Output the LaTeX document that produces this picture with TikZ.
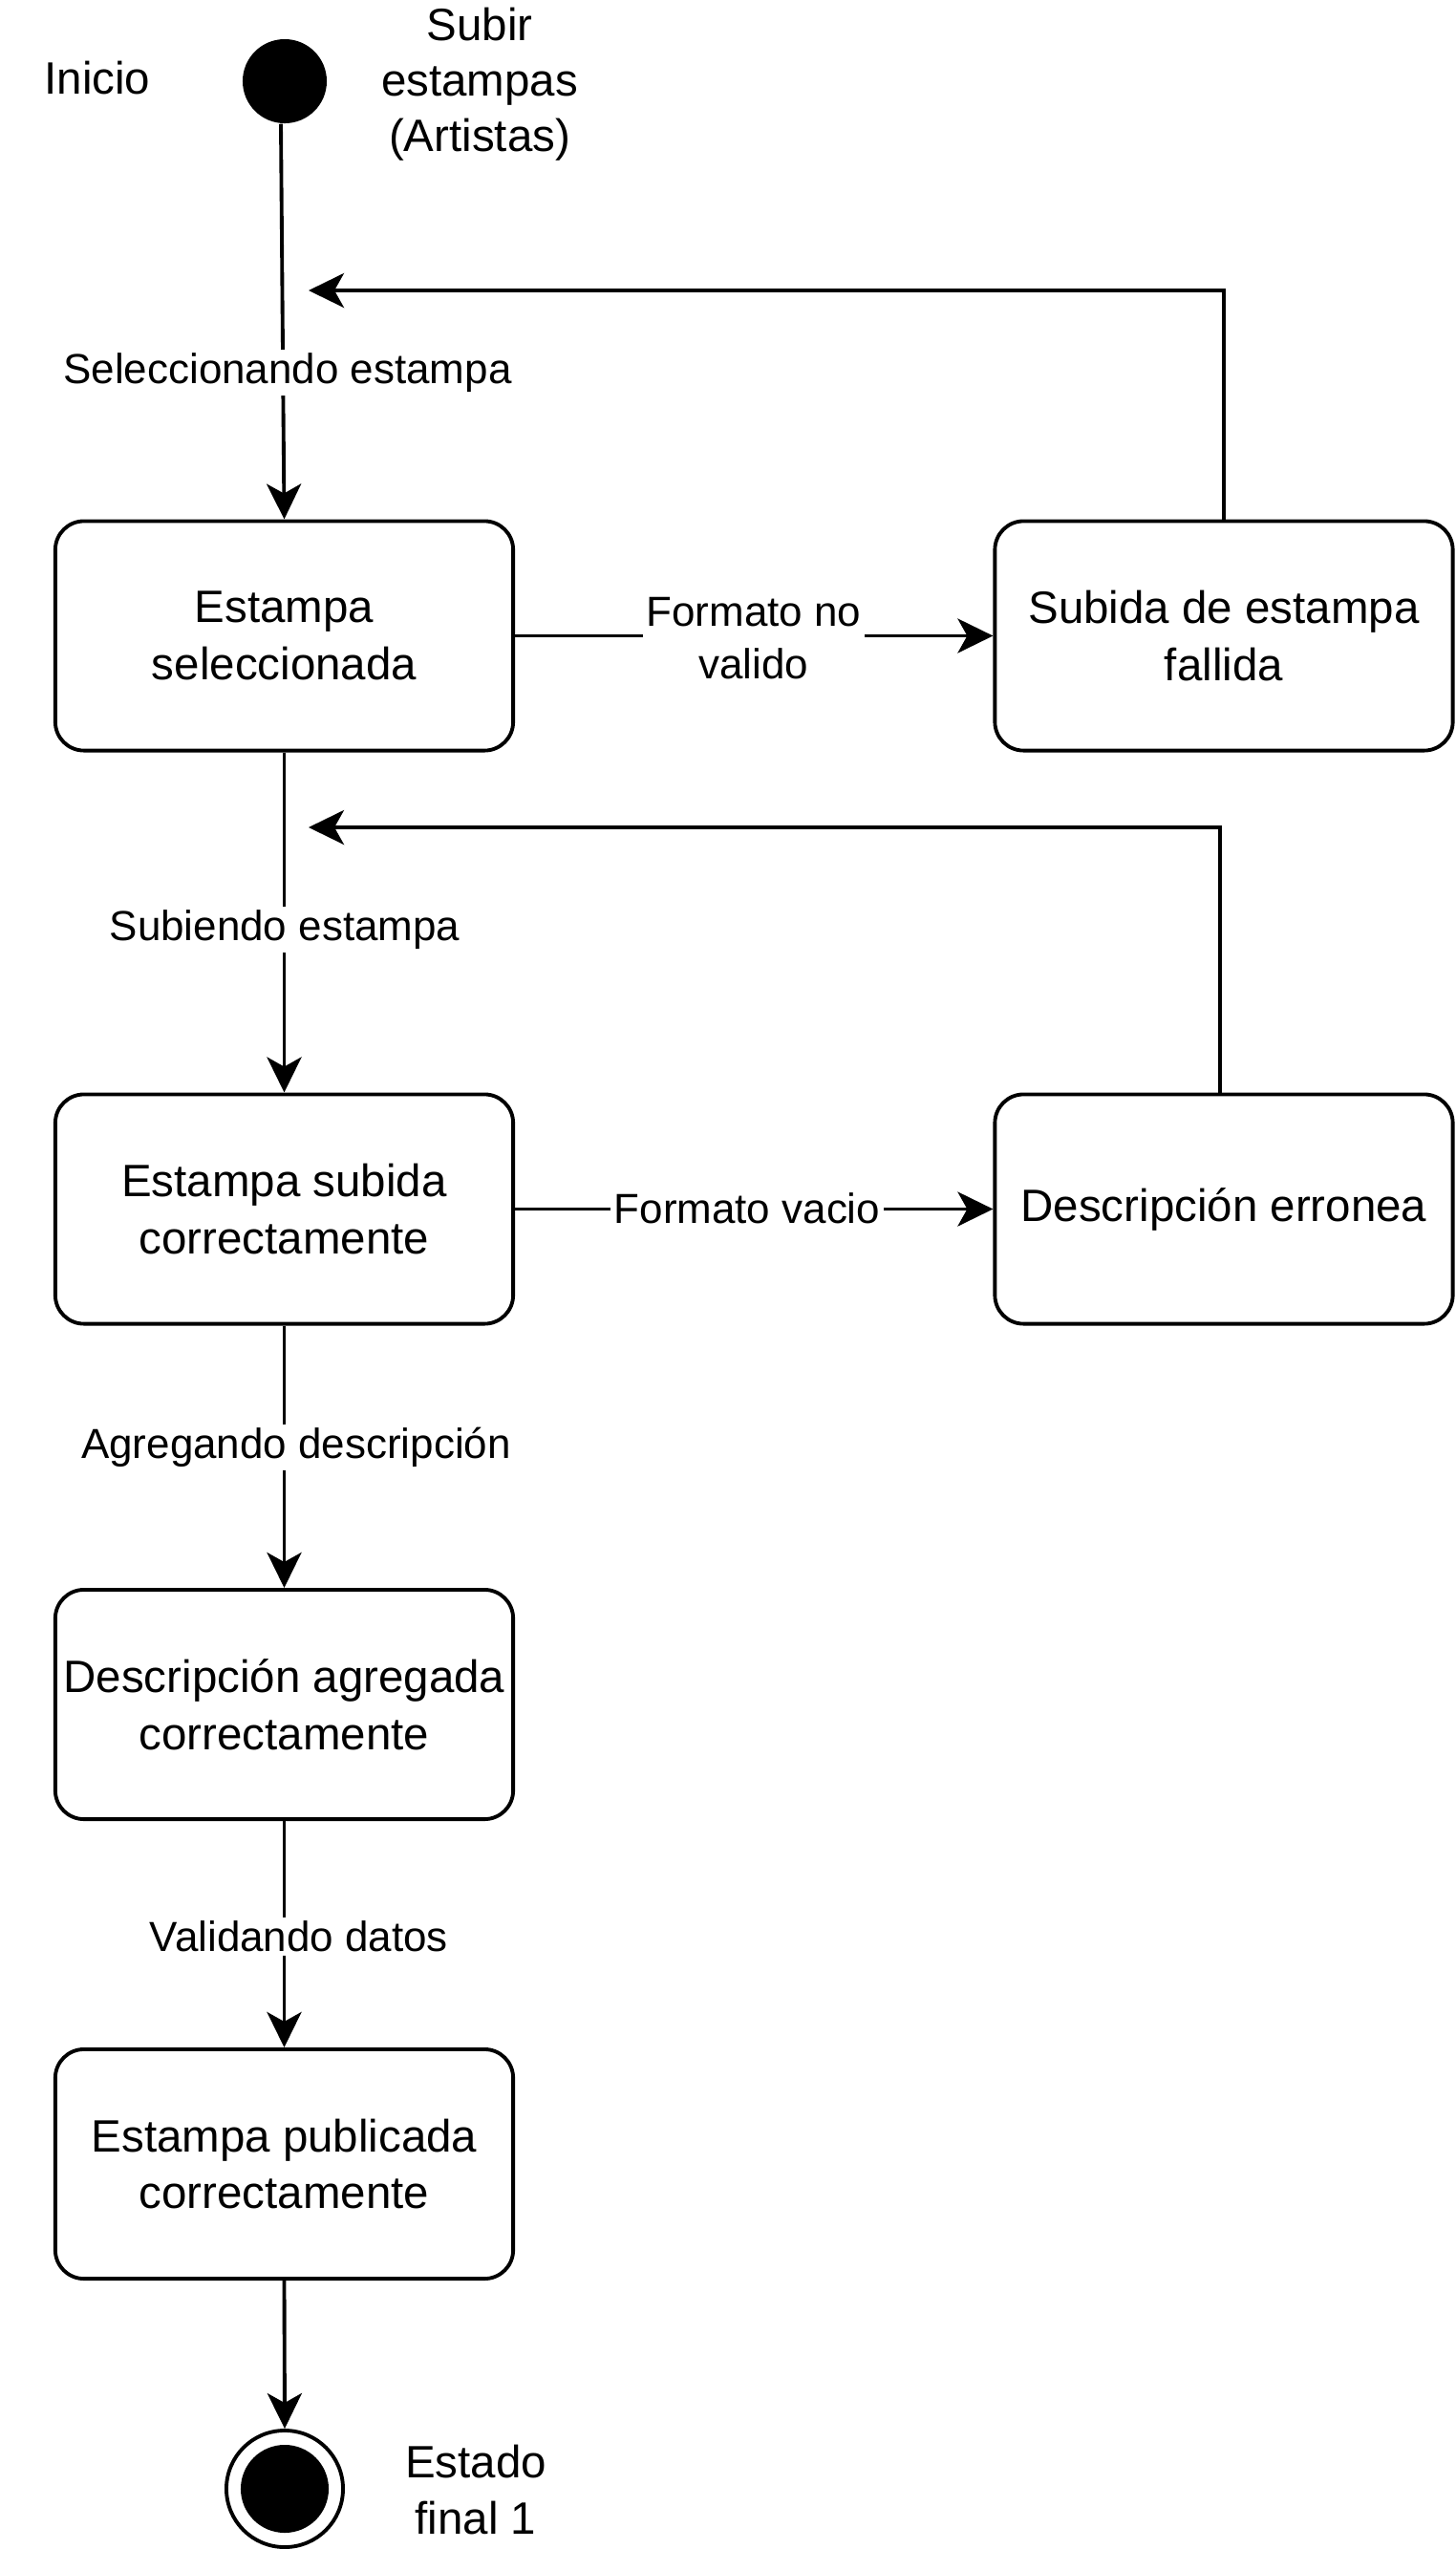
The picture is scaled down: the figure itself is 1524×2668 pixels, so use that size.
\documentclass[tikz,border=0pt]{standalone}
\usepackage{fontspec}
\setmainfont{Liberation Sans}
\usetikzlibrary{arrows.meta}
\begin{document}
\begin{tikzpicture}[x=0.01cm,y=-0.01cm,
 state/.style={draw,line width=1.1pt,rounded corners=0.3cm,minimum width=4.79cm,minimum height=2.4cm,align=center,font=\fontsize{13.5}{17}\selectfont,inner sep=0pt},
 lbl/.style={fill=white,align=center,font=\fontsize{12.5}{15.6}\selectfont,inner sep=1pt},
 txt/.style={align=center,font=\fontsize{13.5}{16.5}\selectfont},
 conn/.style={line width=1.1pt,-{Stealth[length=0.37cm,width=0.36cm,inset=0.1cm]}}]
\useasboundingbox (0,0) rectangle (1524,2668);
\node[circle,fill=black,minimum size=0.88cm,inner sep=0pt] (init) at (298,85) {};
\node[txt] (inicio) at (102,82) {Inicio};
\node[txt] (subir) at (502,88) {Subir\\estampas\\(Artistas)};
\node[state] (b1) at (297.5,665.5) {Estampa\\seleccionada};
\node[state] (b2) at (1281,665.5) {Subida de estampa\\fallida};
\node[state] (b3) at (297.5,1265.5) {Estampa subida\\correctamente};
\node[state] (b4) at (1281,1265.5) {Descripción erronea};
\node[state] (b5) at (297.5,1784) {Descripción agregada\\correctamente};
\node[state] (b6) at (297.5,2265) {Estampa publicada\\correctamente};
\node[circle,draw,line width=1.1pt,minimum size=1.22cm,inner sep=0pt] (fin) at (298,2605) {};
\node[circle,fill=black,minimum size=0.92cm,inner sep=0pt] (finin) at (fin.center) {};
\node[txt] (estado) at (498,2606) {Estado\\final 1};
\coordinate (r1) at (323,304);
\coordinate (r2) at (323,866);
\draw[conn] ([xshift=-0.04cm]init.south) -- (b1.north);
\draw[conn] (b2.north) |- (r1);
\draw[conn] (b1.east) -- (b2.west);
\draw[conn] (b1.south) -- (b3.north);
\draw[conn] ([xshift=-0.04cm]b4.north) |- (r2);
\draw[conn] (b3.east) -- (b4.west);
\draw[conn] (b3.south) -- (b5.north);
\draw[conn] (b5.south) -- (b6.north);
\draw[conn] (b6.south) -- (fin.north);
\node[lbl] (l1) at (301,390) {Seleccionando estampa};
\node[lbl] (l2) at (789,668) {Formato no\\valido};
\node[lbl] (l3) at (298,973) {Subiendo estampa};
\node[lbl] (l4) at (782,1265) {Formato vacio};
\node[lbl] (l5) at (310,1515) {Agregando descripción};
\node[lbl] (l6) at (313,2027) {Validando datos};
\end{tikzpicture}
\end{document}
